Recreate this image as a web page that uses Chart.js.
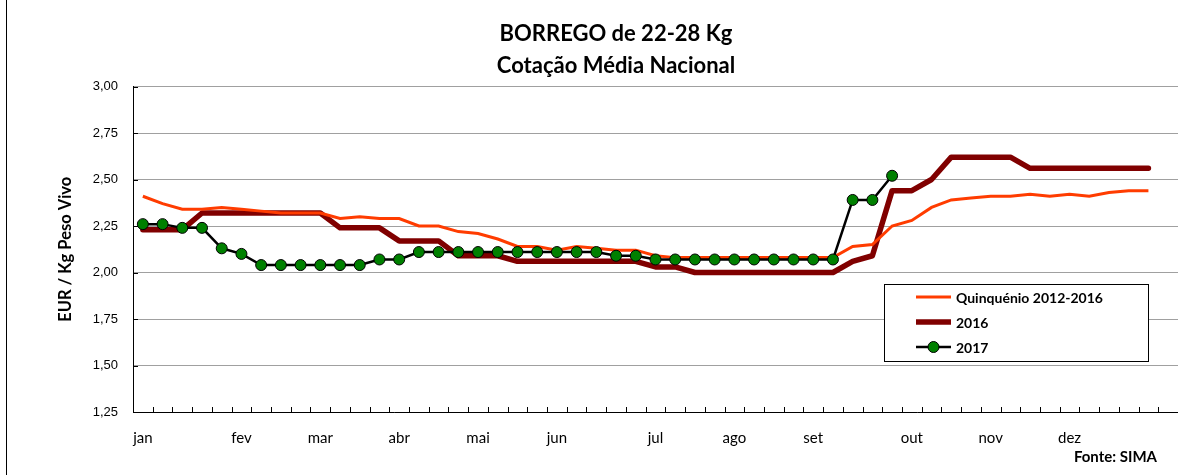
<!DOCTYPE html>
<html>
<head>
<meta charset="utf-8">
<script src="https://cdn.jsdelivr.net/npm/chart.js@4"></script>
<style>
  body { margin: 0; background: #fff; }
  #wrap { position: relative; width: 1178px; height: 475px; }
</style>
</head>
<body>
<div id="wrap"><canvas id="borregoChart" width="1178" height="475"></canvas></div>
<script>
    // Weekly series, 52 weeks (+1 empty slot at the end of the axis)
    const monthLabels = ['jan', 'fev', 'mar', 'abr', 'mai', 'jun', 'jul', 'ago', 'set', 'out', 'nov', 'dez'];
    const monthWeeks = [0, 5, 9, 13, 17, 21, 26, 30, 34, 39, 43, 47];
    const weekCount = 53;

    const quinquenio = [
        2.41, 2.37, 2.34, 2.34, 2.35, 2.34, 2.33, 2.32, 2.32, 2.32,
        2.29, 2.30, 2.29, 2.29, 2.25, 2.25, 2.22, 2.21, 2.18, 2.14,
        2.14, 2.12, 2.14, 2.13, 2.12, 2.12, 2.09, 2.08, 2.08, 2.08,
        2.08, 2.08, 2.08, 2.08, 2.08, 2.08, 2.14, 2.15, 2.25, 2.28,
        2.35, 2.39, 2.40, 2.41, 2.41, 2.42, 2.41, 2.42, 2.41, 2.43,
        2.44, 2.44
    ];
    const year2016 = [
        2.23, 2.23, 2.23, 2.32, 2.32, 2.32, 2.32, 2.32, 2.32, 2.32,
        2.24, 2.24, 2.24, 2.17, 2.17, 2.17, 2.09, 2.09, 2.09, 2.06,
        2.06, 2.06, 2.06, 2.06, 2.06, 2.06, 2.03, 2.03, 2.00, 2.00,
        2.00, 2.00, 2.00, 2.00, 2.00, 2.00, 2.06, 2.09, 2.44, 2.44,
        2.50, 2.62, 2.62, 2.62, 2.62, 2.56, 2.56, 2.56, 2.56, 2.56,
        2.56, 2.56
    ];
    const year2017 = [
        2.26, 2.26, 2.24, 2.24, 2.13, 2.10, 2.04, 2.04, 2.04, 2.04,
        2.04, 2.04, 2.07, 2.07, 2.11, 2.11, 2.11, 2.11, 2.11, 2.11,
        2.11, 2.11, 2.11, 2.11, 2.09, 2.09, 2.07, 2.07, 2.07, 2.07,
        2.07, 2.07, 2.07, 2.07, 2.07, 2.07, 2.39, 2.39, 2.52
    ];

    const calibri = 'Lato, "Open Sans", sans-serif';
    const arial = '"Liberation Sans", Arial, sans-serif';

    // Build category labels: month name on first week of each month
    const labels = [];
    for (let i = 0; i < weekCount; i++) {
        const m = monthWeeks.indexOf(i);
        labels.push(m >= 0 ? monthLabels[m] : '');
    }

    // Excel-style inner tick marks, legend box, source note and frame
    const excelExtras = {
        id: 'excelExtras',
        afterDraw(chart) {
            const ctx = chart.ctx;
            const area = chart.chartArea;
            const yScale = chart.scales.y;
            ctx.save();
            ctx.strokeStyle = '#000';
            ctx.lineWidth = 1;
            ctx.beginPath();
            // x ticks between categories, pointing up
            const step = (area.right - area.left) / weekCount;
            for (let i = 0; i <= weekCount; i++) {
                const x = Math.round(area.left + i * step) + 0.5;
                ctx.moveTo(x, area.bottom);
                ctx.lineTo(x, area.bottom - 5);
            }
            // y ticks pointing right
            yScale.ticks.forEach(t => {
                const y = Math.round(yScale.getPixelForValue(t.value)) + 0.5;
                ctx.moveTo(area.left, y);
                ctx.lineTo(area.left + 5, y);
            });
            // left frame of chart object
            ctx.moveTo(6.5, 0);
            ctx.lineTo(6.5, chart.height);
            ctx.stroke();

            // legend box
            const box = { left: 884, top: area.bottom - 128, width: 264, height: 77 };
            ctx.fillStyle = '#fff';
            ctx.fillRect(box.left, box.top, box.width, box.height);
            ctx.strokeRect(box.left + 0.5, box.top + 0.5, box.width, box.height);

            const legendOrder = [0, 1, 2];
            ctx.font = 'bold 14px ' + calibri;
            ctx.textBaseline = 'middle';
            ctx.textAlign = 'left';
            legendOrder.forEach((di, row) => {
                const ds = chart.data.datasets[di];
                const y = box.top + 13 + row * 25;
                const x0 = box.left + 32, x1 = box.left + 67;
                ctx.beginPath();
                ctx.strokeStyle = ds.borderColor;
                ctx.lineWidth = ds.borderWidth;
                ctx.lineCap = 'butt';
                ctx.moveTo(x0, y);
                ctx.lineTo(x1, y);
                ctx.stroke();
                if (ds.pointRadius > 0) {
                    ctx.beginPath();
                    ctx.arc((x0 + x1) / 2, y, ds.pointRadius, 0, Math.PI * 2);
                    ctx.fillStyle = ds.pointBackgroundColor;
                    ctx.fill();
                    ctx.lineWidth = ds.pointBorderWidth;
                    ctx.strokeStyle = ds.pointBorderColor;
                    ctx.stroke();
                }
                ctx.fillStyle = '#000';
                ctx.fillText(ds.label, box.left + 72, y + 1);
            });

            // source note
            ctx.font = 'bold 15px ' + calibri;
            ctx.textAlign = 'right';
            ctx.fillText('Fonte: SIMA', 1157, 457);
            ctx.restore();
        }
    };

    const ctx = document.getElementById('borregoChart').getContext('2d');
    const borregoChart = new Chart(ctx, {
        type: 'line',
        data: {
            labels: labels,
            datasets: [{
                label: 'Quinquénio 2012-2016',
                data: quinquenio,
                borderColor: '#ff3c00',
                borderWidth: 3,
                pointRadius: 0,
                order: 1
            }, {
                label: '2016',
                data: year2016,
                borderColor: '#800000',
                borderWidth: 5.5,
                borderCapStyle: 'round',
                borderJoinStyle: 'round',
                pointRadius: 0,
                order: 2
            }, {
                label: '2017',
                data: year2017,
                borderColor: '#000',
                borderWidth: 2.5,
                pointRadius: 5.5,
                pointBackgroundColor: '#008000',
                pointBorderColor: '#000',
                pointBorderWidth: 1,
                order: 0
            }]
        },
        options: {
            responsive: false,
            animation: false,
            devicePixelRatio: 1,
            layout: { autoPadding: false, padding: { left: 54, right: 0, top: 0, bottom: 0 } },
            plugins: {
                legend: { display: false },
                tooltip: { enabled: false },
                title: {
                    display: true,
                    text: ['BORREGO de 22-28 Kg', 'Cotação Média Nacional'],
                    color: '#000',
                    font: { family: calibri, size: 22, weight: 'bold', lineHeight: 32 / 22 },
                    padding: { top: 18, bottom: 4.5 }
                }
            },
            scales: {
                x: {
                    offset: true,
                    // invisible tick marks only used to push the labels down
                    grid: { display: true, drawOnChartArea: false, drawTicks: true, tickLength: 17, tickColor: 'rgba(0,0,0,0)' },
                    border: { display: true, color: '#000', width: 1 },
                    ticks: {
                        autoSkip: false,
                        maxRotation: 0,
                        padding: 0,
                        color: '#000',
                        font: { family: calibri, size: 15 }
                    },
                    afterFit: scale => { scale.height = 63; }
                },
                y: {
                    min: 1.25,
                    max: 3.0,
                    grid: { color: '#a0a0a0', lineWidth: 1, drawTicks: false },
                    border: { display: true, color: '#000', width: 1 },
                    ticks: {
                        stepSize: 0.25,
                        padding: 15,
                        color: '#000',
                        font: { family: arial, size: 13 },
                        callback: v => v.toFixed(2).replace('.', ',')
                    },
                    title: {
                        display: true,
                        text: 'EUR / Kg Peso Vivo',
                        color: '#000',
                        font: { family: calibri, size: 16.5, weight: 'bold' },
                        padding: { top: 2, bottom: 0 }
                    },
                    afterFit: scale => { scale.width = 79; }
                }
            }
        },
        plugins: [excelExtras]
    });
</script>
</body>
</html>
